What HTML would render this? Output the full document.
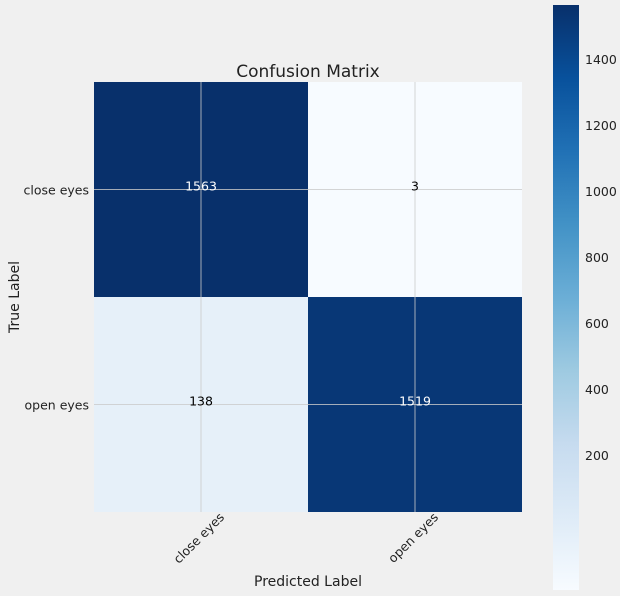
<!DOCTYPE html>
<html><head><meta charset="utf-8"><style>
html,body{margin:0;background:#f0f0f0;overflow:hidden;width:620px;height:596px;}
svg{display:block;}
svg text{font-family:"DejaVu Sans","Liberation Sans",sans-serif;}
</style></head><body>
<svg id="c" width="620" height="596" xmlns="http://www.w3.org/2000/svg">
<defs>
<linearGradient id="blues" x1="0" y1="1" x2="0" y2="0">
<stop offset="0" stop-color="#f7fbff"/><stop offset="0.125" stop-color="#deebf7"/>
<stop offset="0.25" stop-color="#c6dbef"/><stop offset="0.375" stop-color="#9ecae1"/>
<stop offset="0.5" stop-color="#6baed6"/><stop offset="0.625" stop-color="#4292c6"/>
<stop offset="0.75" stop-color="#2171b5"/><stop offset="0.875" stop-color="#08519c"/>
<stop offset="1" stop-color="#08306b"/></linearGradient>
</defs>
<rect width="620" height="596" fill="#f0f0f0"/>
<text x="308" y="77" text-anchor="middle" font-size="17" fill="#222">Confusion Matrix</text>
<g id="cells"></g>
<text x="308" y="586" text-anchor="middle" font-size="14" fill="#222">Predicted Label</text>
<text transform="translate(19,297) rotate(-90)" text-anchor="middle" font-size="14" fill="#222">True Label</text>
<rect x="553" y="5" width="26" height="585" fill="url(#blues)"/>
<g id="cbticks"></g>
</svg>
<script>
const categories=["close eyes","open eyes"];
const matrixRow0=[1563,3];
const matrixRow1=[138,1519];
const cbTicks=[200,400,600,800,1000,1200,1400];
const rows=[matrixRow0,matrixRow1];
const NS="http://www.w3.org/2000/svg";
const svg=document.getElementById('c');
const L=94,T=82,W=428,H=430;
const vmin=Math.min(...rows.flat()),vmax=Math.max(...rows.flat());
const stops=["#f7fbff","#deebf7","#c6dbef","#9ecae1","#6baed6","#4292c6","#2171b5","#08519c","#08306b"];
function hex(h){return [1,3,5].map(i=>parseInt(h.substr(i,2),16));}
function color(v){let t=(v-vmin)/(vmax-vmin)*8;let i=Math.min(7,Math.floor(t));let f=t-i;let a=hex(stops[i]),b=hex(stops[i+1]);return 'rgb('+a.map((x,k)=>Math.round(x+(b[k]-x)*f)).join(',')+')';}
const n=categories.length,cw=W/n,ch=H/n;
const xc=j=>L+cw*(j+0.5),yc=i=>T+ch*(i+0.5);
function mk(tag,attrs,parent){const e=document.createElementNS(NS,tag);for(const k in attrs)e.setAttribute(k,attrs[k]);(parent||svg).appendChild(e);return e;}
const g=document.getElementById('cells');
rows.forEach((r,i)=>r.forEach((v,j)=>{
 const rc=mk('rect',{x:L+cw*j,y:T+ch*i,width:cw,height:ch,fill:color(v)},g);
 
 
}));
for(let k=0;k<n;k++){
 const l1=mk('line',{x1:xc(k),x2:xc(k),y1:T,y2:T+H,stroke:'#cbcbcb','stroke-width':1,opacity:0.8});
 
 
 const l2=mk('line',{x1:L,x2:L+W,y1:yc(k),y2:yc(k),stroke:'#cbcbcb','stroke-width':1,opacity:0.8});
 
 
}
rows.forEach((r,i)=>r.forEach((v,j)=>{
 const t=mk('text',{x:xc(j),y:yc(i)+1,'text-anchor':'middle','font-size':12.5,fill:v>vmax/2?'#fff':'#000'});
 t.textContent=v;
 
 
}));
categories.forEach((c,k)=>{
 const t=mk('text',{x:89,y:yc(k)+5,'text-anchor':'end','font-size':12.5,fill:'#222'});
 t.textContent=c;
 
 
 const x=xc(k)+24,y=518;
 const t2=mk('text',{x:x,y:y,'text-anchor':'end','font-size':12.5,fill:'#222',transform:'rotate(-45 '+x+' '+y+')'});
 t2.textContent=c;
 
 
});
const cb=document.getElementById('cbticks');
const cbTop=5,cbPx=0.33;
cbTicks.forEach(v=>{
 const y=cbTop+(vmax-v)*cbPx;
 const t=mk('text',{x:585,y:y+5,'font-size':12.5,fill:'#222'},cb);
 t.textContent=v;
 
 
});
</script>
</body></html>
